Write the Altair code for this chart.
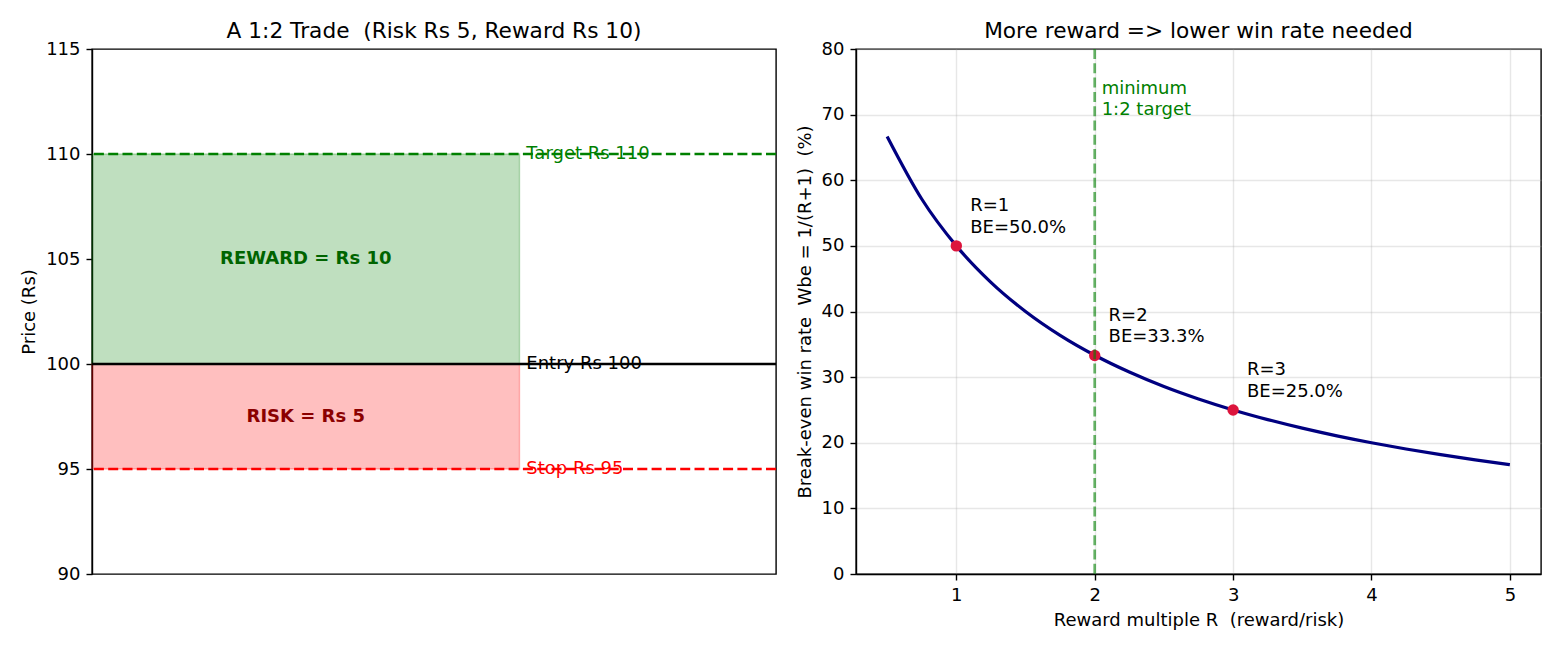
import altair as alt
import pandas as pd

FONT = "DejaVu Sans"
NB = "\u00a0"

# ---------------- Left panel data ----------------
level_names = ["Target Rs 110", "Entry Rs 100", "Stop Rs 95"]
level_prices = [110, 100, 95]
level_colors = ["#008000", "#000000", "#ff0000"]
level_dashed = [True, False, True]

zone_labels = ["REWARD = Rs 10", "RISK = Rs 5"]
zone_low = [100, 95]
zone_high = [110, 100]
zone_fill = ["#008000", "#ff0000"]
zone_text_color = ["#006400", "#8b0000"]

# ---------------- Right panel data ----------------
r_values = [0.5, 0.75, 1.0, 1.25, 1.5, 1.75, 2.0, 2.25, 2.5, 2.75, 3.0,
            3.25, 3.5, 3.75, 4.0, 4.25, 4.5, 4.75, 5.0]
be_values = [66.67, 57.14, 50.0, 44.44, 40.0, 36.36, 33.33, 30.77, 28.57, 26.67,
             25.0, 23.53, 22.22, 21.05, 20.0, 19.05, 18.18, 17.39, 16.67]
marker_r = [1, 2, 3]
marker_be = [50.0, 33.3, 25.0]
marker_text = [["R=1", "BE=50.0%"], ["R=2", "BE=33.3%"], ["R=3", "BE=25.0%"]]

levels = pd.DataFrame({"name": level_names, "price": level_prices,
                       "color": level_colors, "dashed": level_dashed})
zones = pd.DataFrame({"label": zone_labels, "lo": zone_low, "hi": zone_high,
                      "fill": zone_fill, "tcolor": zone_text_color})
curve = pd.DataFrame({"r": r_values, "be": be_values})
markers = pd.DataFrame({"r": marker_r, "be": marker_be,
                        "l1": [t[0] for t in marker_text],
                        "l2": [t[1] for t in marker_text]})

W, H = 684, 525

xl = alt.Scale(domain=[0, 1], nice=False, zero=False)
yl = alt.Scale(domain=[90, 115], nice=False, zero=False)

zone_rect = alt.Chart(zones).mark_rect(fillOpacity=0.25, strokeOpacity=0.25, strokeWidth=1.4).encode(
    x=alt.XDatum(0, type="quantitative", scale=xl, axis=None),
    x2=alt.X2Datum(0.625),
    y=alt.Y("lo:Q", scale=yl, axis=alt.Axis(values=[90, 95, 100, 105, 110, 115], title="Price (Rs)", grid=False)),
    y2="hi:Q",
    fill=alt.Fill("fill:N", scale=None),
    stroke=alt.Stroke("fill:N", scale=None),
)

zone_text = alt.Chart(zones).transform_calculate(mid="(datum.lo + datum.hi) / 2").mark_text(
    font=FONT, fontSize=18, fontWeight="bold", align="center", baseline="middle"
).encode(
    x=alt.XDatum(0.3125, type="quantitative"),
    y="mid:Q",
    text="label:N",
    color=alt.Color("tcolor:N", scale=None),
)

dashed_rules = alt.Chart(levels[levels["dashed"]]).mark_rule(strokeWidth=2.7, strokeDash=[10, 4.3]).encode(
    y="price:Q", color=alt.Color("color:N", scale=None))
solid_rules = alt.Chart(levels[~levels["dashed"]]).mark_rule(strokeWidth=2.7).encode(
    y="price:Q", color=alt.Color("color:N", scale=None))

level_text = alt.Chart(levels).mark_text(
    font=FONT, fontSize=18, align="left", baseline="middle"
).encode(
    x=alt.XDatum(0.635, type="quantitative"),
    y="price:Q",
    text="name:N",
    color=alt.Color("color:N", scale=None),
)

left = alt.layer(zone_rect, dashed_rules, solid_rules, level_text, zone_text).properties(
    width=W, height=H,
    title=alt.TitleParams(f"A 1:2 Trade {NB}(Risk Rs 5, Reward Rs 10)"),
)

# ---------------- Right panel ----------------
xr = alt.Scale(domain=[0.275, 5.225], nice=False, zero=False)
yr = alt.Scale(domain=[0, 80], nice=False, zero=False)

line = alt.Chart(curve).mark_line(color="#000080", strokeWidth=3.2, interpolate="monotone").encode(
    x=alt.X("r:Q", scale=xr, axis=alt.Axis(values=[1, 2, 3, 4, 5], grid=True, format="d",
                                           title=f"Reward multiple R {NB}(reward/risk)")),
    y=alt.Y("be:Q", scale=yr, axis=alt.Axis(values=list(range(0, 81, 10)), grid=True, format="d",
                                            title=f"Break-even win rate {NB}Wbe = 1/(R+1) {NB}(%)")),
)

pts = alt.Chart(markers).mark_circle(color="#dc143c", size=130, opacity=1).encode(
    x="r:Q", y="be:Q")

vline = alt.Chart(markers[markers["r"] == 2]).mark_rule(
    color="#008000", opacity=0.6, strokeWidth=2.7, strokeDash=[10, 4.3]).encode(x="r:Q")

min_text = alt.Chart(markers[markers["r"] == 2]).transform_calculate(
    tx="datum.r + 0.05", ty="75").mark_text(
    font=FONT, fontSize=18, align="left", baseline="top", color="#008000",
    lineBreak="\n", lineHeight=21.6, dy=-2
).encode(x="tx:Q", y="ty:Q", text=alt.value("minimum\n1:2 target"))

lab1 = alt.Chart(markers).transform_calculate(
    tx="datum.r + 0.1", ty="datum.be + 2").mark_text(
    font=FONT, fontSize=18, align="left", baseline="alphabetic", color="black", dy=-21.6
).encode(x="tx:Q", y="ty:Q", text="l1:N")
lab2 = alt.Chart(markers).transform_calculate(
    tx="datum.r + 0.1", ty="datum.be + 2").mark_text(
    font=FONT, fontSize=18, align="left", baseline="alphabetic", color="black"
).encode(x="tx:Q", y="ty:Q", text="l2:N")

right = alt.layer(line, pts, vline, min_text, lab1, lab2).properties(
    width=W + 1, height=H,
    title=alt.TitleParams("More reward => lower win rate needed"),
)

chart = alt.hconcat(left, right, spacing=16).properties(
    padding={"left": 19, "top": 20, "right": 0, "bottom": 0}
).configure_view(
    stroke="black", strokeWidth=1.4
).configure_axis(
    domainColor="black", domainWidth=1.4, tickColor="black", tickWidth=1.4, tickSize=6,
    labelFont=FONT, labelFontSize=18, labelColor="black", labelPadding=6,
    titleFont=FONT, titleFontSize=18, titleFontWeight="normal", titleColor="black", titlePadding=7,
    gridColor="#b0b0b0", gridOpacity=0.3, gridWidth=1.4,
).configure_title(
    font=FONT, fontSize=21.7, fontWeight="normal", color="black", baseline="alphabetic", offset=-3
).configure_text(font=FONT)

chart.save("out.html", embed_options={"renderer": "svg", "actions": False})
